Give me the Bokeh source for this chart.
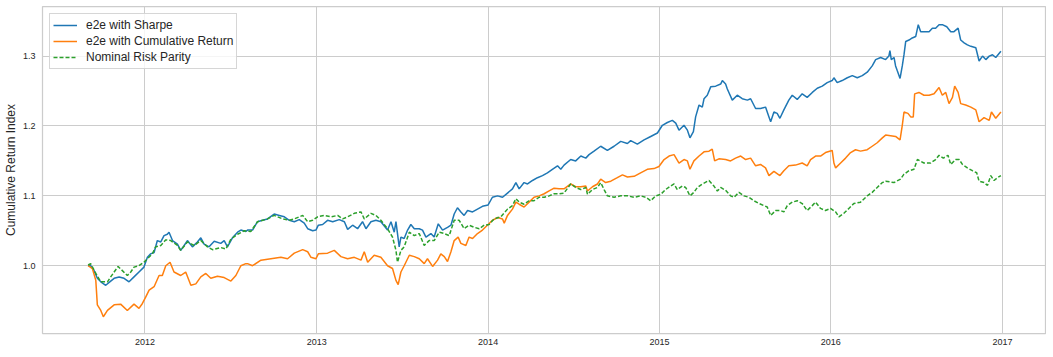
import pandas as pd
from bokeh.plotting import figure
from bokeh.models import Range1d, FixedTicker, DatetimeTickFormatter, PrintfTickFormatter
from bokeh.embed import file_html
from bokeh.resources import INLINE

# ---------------- data (dates as decimal years, values as index levels) ----------------
sharpe_years = [
    2011.668, 2011.683, 2011.703, 2011.722, 2011.742, 2011.771, 2011.800, 2011.820, 2011.849, 2011.878,
    2011.907, 2011.936, 2011.965, 2011.994, 2012.014, 2012.033, 2012.053, 2012.072, 2012.092, 2012.111,
    2012.130, 2012.140, 2012.160, 2012.189, 2012.208, 2012.228, 2012.247, 2012.276, 2012.305, 2012.325,
    2012.344, 2012.373, 2012.403, 2012.441, 2012.461, 2012.480, 2012.509, 2012.539, 2012.558, 2012.587,
    2012.597, 2012.626, 2012.655, 2012.684, 2012.713, 2012.752, 2012.782, 2012.811, 2012.840, 2012.869,
    2012.898, 2012.927, 2012.947, 2012.976, 2012.995, 2013.009, 2013.034, 2013.063, 2013.093, 2013.131,
    2013.161, 2013.180, 2013.209, 2013.238, 2013.267, 2013.287, 2013.316, 2013.345, 2013.374, 2013.413,
    2013.433, 2013.452, 2013.462, 2013.481, 2013.491, 2013.510,
    2013.530, 2013.549, 2013.569, 2013.598, 2013.617, 2013.637, 2013.666, 2013.685, 2013.709, 2013.734,
    2013.763, 2013.783, 2013.802, 2013.821, 2013.841, 2013.860, 2013.880, 2013.909, 2013.938, 2013.967,
    2014.000, 2014.025, 2014.055, 2014.084, 2014.113, 2014.142, 2014.162, 2014.181, 2014.210, 2014.230,
    2014.259, 2014.288, 2014.317, 2014.346, 2014.375, 2014.405, 2014.424, 2014.443,
    2014.482, 2014.511, 2014.541, 2014.570, 2014.589, 2014.618, 2014.657, 2014.696, 2014.735, 2014.774,
    2014.813, 2014.832, 2014.871, 2014.910, 2014.949, 2014.988, 2015.017, 2015.046, 2015.075, 2015.095,
    2015.114, 2015.143, 2015.163, 2015.178, 2015.198, 2015.211, 2015.231, 2015.250, 2015.260, 2015.279,
    2015.299, 2015.328, 2015.357, 2015.367, 2015.386,
    2015.396, 2015.425, 2015.454, 2015.483, 2015.513, 2015.532, 2015.561, 2015.590, 2015.619, 2015.639,
    2015.649, 2015.668, 2015.687, 2015.703, 2015.726, 2015.755, 2015.775, 2015.804, 2015.833, 2015.862,
    2015.892, 2015.921, 2015.950, 2015.979, 2016.008, 2016.018, 2016.037, 2016.066, 2016.096, 2016.125,
    2016.154, 2016.183, 2016.212, 2016.241, 2016.261, 2016.290, 2016.319,
    2016.338, 2016.344, 2016.352, 2016.368, 2016.377, 2016.387, 2016.403, 2016.416, 2016.426, 2016.436,
    2016.455, 2016.474, 2016.494, 2016.509, 2016.523, 2016.542, 2016.572, 2016.591, 2016.610, 2016.630,
    2016.649, 2016.675, 2016.698, 2016.717, 2016.741, 2016.756, 2016.776, 2016.795, 2016.815, 2016.844,
    2016.863, 2016.883, 2016.902, 2016.922, 2016.941, 2016.960, 2016.990,
]
sharpe_values = [
    1.000, 1.000, 0.993, 0.982, 0.977, 0.972, 0.978, 0.982, 0.984, 0.982,
    0.977, 0.984, 0.991, 0.998, 1.012, 1.017, 1.019, 1.036, 1.034, 1.043,
    1.045, 1.048, 1.036, 1.031, 1.022, 1.029, 1.036, 1.027, 1.034, 1.040,
    1.031, 1.027, 1.035, 1.032, 1.036, 1.027, 1.040, 1.048, 1.051, 1.049,
    1.051, 1.051, 1.063, 1.065, 1.067, 1.074, 1.072, 1.070, 1.065, 1.063,
    1.066, 1.061, 1.053, 1.050, 1.051, 1.058, 1.059, 1.065, 1.063, 1.066,
    1.063, 1.052, 1.058, 1.053, 1.063, 1.053, 1.063, 1.065, 1.063, 1.051,
    1.063, 1.048, 1.063, 1.027, 1.041, 1.039,
    1.051, 1.059, 1.053, 1.053, 1.051, 1.041, 1.046, 1.041, 1.060, 1.051,
    1.055, 1.058, 1.074, 1.083, 1.077, 1.072, 1.079, 1.077, 1.081, 1.085,
    1.087, 1.098, 1.100, 1.098, 1.104, 1.110, 1.119, 1.110, 1.119, 1.117,
    1.122, 1.126, 1.129, 1.133, 1.138, 1.143, 1.138, 1.144,
    1.152, 1.150, 1.157, 1.154, 1.159, 1.164, 1.171, 1.165, 1.171, 1.178,
    1.175, 1.179, 1.174, 1.180, 1.185, 1.190, 1.201, 1.205, 1.208, 1.204,
    1.194, 1.201, 1.194, 1.183, 1.192, 1.213, 1.230, 1.227, 1.239, 1.244,
    1.256, 1.257, 1.260, 1.265, 1.260,
    1.253, 1.237, 1.244, 1.239, 1.237, 1.239, 1.225, 1.225, 1.227, 1.213,
    1.206, 1.220, 1.218, 1.211, 1.223, 1.237, 1.244, 1.238, 1.246, 1.241,
    1.248, 1.254, 1.257, 1.262, 1.265, 1.269, 1.262, 1.265, 1.269, 1.272,
    1.269, 1.272, 1.277, 1.286, 1.295, 1.298, 1.295,
    1.300, 1.308, 1.295, 1.298, 1.286, 1.279, 1.268, 1.286, 1.302, 1.321,
    1.323, 1.326, 1.328, 1.345, 1.335, 1.335, 1.335, 1.340, 1.340, 1.345,
    1.345, 1.342, 1.335, 1.335, 1.340, 1.323, 1.319, 1.316, 1.314, 1.312,
    1.293, 1.300, 1.295, 1.300, 1.302, 1.298, 1.307,
]

cumret_years = [
    2011.668, 2011.693, 2011.713, 2011.722, 2011.742, 2011.757, 2011.781, 2011.820, 2011.858, 2011.897,
    2011.936, 2011.965, 2011.985, 2012.004, 2012.024, 2012.053, 2012.082, 2012.101, 2012.121, 2012.146,
    2012.169, 2012.208, 2012.237, 2012.267, 2012.296, 2012.325, 2012.354, 2012.383, 2012.422, 2012.461,
    2012.500, 2012.529, 2012.558, 2012.587,
    2012.597, 2012.626, 2012.675, 2012.733, 2012.791, 2012.830, 2012.869, 2012.918, 2012.947, 2012.966,
    2012.995, 2013.009, 2013.063, 2013.102, 2013.141, 2013.180, 2013.219, 2013.258, 2013.277, 2013.297,
    2013.335, 2013.374, 2013.413, 2013.442, 2013.462, 2013.475, 2013.491, 2013.510,
    2013.540, 2013.569, 2013.598, 2013.627, 2013.646, 2013.676, 2013.705, 2013.724, 2013.744, 2013.763,
    2013.783, 2013.802, 2013.825, 2013.841, 2013.870, 2013.889, 2013.909, 2013.938, 2013.967, 2014.000,
    2014.025, 2014.055, 2014.084, 2014.094, 2014.113, 2014.142, 2014.162, 2014.181, 2014.210, 2014.239,
    2014.268, 2014.298, 2014.327, 2014.356, 2014.385, 2014.414, 2014.443,
    2014.482, 2014.511, 2014.541, 2014.570, 2014.580, 2014.609, 2014.638, 2014.657, 2014.686, 2014.716,
    2014.754, 2014.784, 2014.813, 2014.852, 2014.890, 2014.929, 2014.968, 2014.997, 2015.027, 2015.056,
    2015.085, 2015.114, 2015.143, 2015.163, 2015.178, 2015.201, 2015.231, 2015.260, 2015.289, 2015.308,
    2015.322, 2015.347, 2015.386,
    2015.415, 2015.444, 2015.474, 2015.503, 2015.532, 2015.561, 2015.590, 2015.619, 2015.639, 2015.668,
    2015.703, 2015.726, 2015.755, 2015.794, 2015.833, 2015.862, 2015.882, 2015.911, 2015.940, 2015.969,
    2016.008, 2016.018, 2016.028, 2016.057, 2016.086, 2016.115, 2016.144, 2016.173, 2016.212, 2016.241,
    2016.270, 2016.300, 2016.319,
    2016.348, 2016.377, 2016.403, 2016.416, 2016.426, 2016.449, 2016.465, 2016.480, 2016.488, 2016.513,
    2016.542, 2016.572, 2016.601, 2016.630, 2016.649, 2016.669, 2016.688, 2016.708, 2016.721, 2016.741,
    2016.756, 2016.785, 2016.815, 2016.844, 2016.863, 2016.892, 2016.922, 2016.935, 2016.960, 2016.990,
]
cumret_values = [
    1.000, 0.996, 0.979, 0.944, 0.936, 0.927, 0.936, 0.944, 0.945, 0.936,
    0.945, 0.939, 0.946, 0.955, 0.965, 0.970, 0.986, 0.986, 1.000, 1.005,
    0.991, 0.986, 0.991, 0.972, 0.974, 0.984, 0.989, 0.982, 0.985, 0.983,
    0.978, 0.986, 1.000, 1.003,
    1.003, 1.000, 1.008, 1.010, 1.012, 1.010, 1.018, 1.023, 1.020, 1.012,
    1.010, 1.017, 1.018, 1.022, 1.013, 1.010, 1.012, 1.008, 1.020, 1.005,
    1.015, 1.012, 1.000, 0.996, 0.979, 0.973, 0.991, 1.000,
    1.015, 1.013, 1.010, 1.003, 1.010, 0.999, 1.008, 1.017, 1.013, 1.006,
    1.020, 1.036, 1.041, 1.032, 1.029, 1.041, 1.039, 1.046, 1.051, 1.059,
    1.065, 1.069, 1.067, 1.061, 1.072, 1.081, 1.091, 1.088, 1.084, 1.091,
    1.098, 1.100, 1.103, 1.107, 1.111, 1.110, 1.110,
    1.117, 1.113, 1.113, 1.114, 1.107, 1.113, 1.117, 1.124, 1.119, 1.121,
    1.126, 1.130, 1.127, 1.128, 1.133, 1.138, 1.139, 1.142, 1.152, 1.157,
    1.159, 1.147, 1.152, 1.150, 1.138, 1.150, 1.157, 1.163, 1.164, 1.167,
    1.150, 1.153, 1.152,
    1.150, 1.154, 1.157, 1.152, 1.154, 1.143, 1.145, 1.140, 1.129, 1.135,
    1.129, 1.136, 1.143, 1.144, 1.147, 1.143, 1.152, 1.157, 1.157, 1.162,
    1.165, 1.147, 1.140, 1.147, 1.154, 1.162, 1.166, 1.164, 1.166, 1.171,
    1.176, 1.183, 1.187,
    1.186, 1.185, 1.180, 1.201, 1.220, 1.218, 1.213, 1.213, 1.246, 1.248,
    1.244, 1.244, 1.246, 1.255, 1.244, 1.248, 1.232, 1.241, 1.257, 1.248,
    1.232, 1.230, 1.227, 1.223, 1.206, 1.212, 1.208, 1.220, 1.211, 1.220,
]

nrp_years = [
    2011.668, 2011.683, 2011.713, 2011.742, 2011.781, 2011.800, 2011.820, 2011.843, 2011.868, 2011.897,
    2011.917, 2011.936, 2011.965, 2011.994, 2012.014, 2012.043, 2012.062, 2012.092, 2012.121, 2012.150,
    2012.189, 2012.208, 2012.247, 2012.286, 2012.325, 2012.364, 2012.393, 2012.441, 2012.471, 2012.500,
    2012.539, 2012.578,
    2012.616, 2012.655, 2012.713, 2012.752, 2012.801, 2012.840, 2012.869, 2012.918, 2012.947, 2012.976,
    2013.005, 2013.044, 2013.083, 2013.122, 2013.151, 2013.180, 2013.219, 2013.258, 2013.277, 2013.316,
    2013.345, 2013.374, 2013.413, 2013.442, 2013.462, 2013.471, 2013.491, 2013.510,
    2013.540, 2013.569, 2013.598, 2013.627, 2013.656, 2013.685, 2013.715, 2013.744, 2013.773, 2013.802,
    2013.831, 2013.860, 2013.889, 2013.919, 2013.948, 2013.977, 2014.006, 2014.035, 2014.074, 2014.113,
    2014.142, 2014.162, 2014.181, 2014.210, 2014.239, 2014.268, 2014.298, 2014.327, 2014.356, 2014.385,
    2014.414, 2014.443,
    2014.482, 2014.511, 2014.541, 2014.570, 2014.580, 2014.609, 2014.638, 2014.657, 2014.677, 2014.696,
    2014.735, 2014.774, 2014.813, 2014.852, 2014.890, 2014.920, 2014.949, 2014.978, 2015.007, 2015.036,
    2015.065, 2015.085, 2015.104, 2015.133, 2015.153, 2015.178, 2015.201, 2015.221, 2015.250, 2015.289,
    2015.318, 2015.338, 2015.357, 2015.386,
    2015.415, 2015.435, 2015.464, 2015.493, 2015.522, 2015.551, 2015.581, 2015.610, 2015.629, 2015.649,
    2015.678, 2015.707, 2015.726, 2015.746, 2015.775, 2015.804, 2015.833, 2015.862, 2015.892, 2015.911,
    2015.940, 2015.969, 2015.998, 2016.028, 2016.047, 2016.076, 2016.105, 2016.134, 2016.173, 2016.212,
    2016.241, 2016.270, 2016.300, 2016.319,
    2016.368, 2016.406, 2016.426, 2016.455, 2016.484, 2016.504, 2016.542, 2016.581, 2016.610, 2016.630,
    2016.655, 2016.682, 2016.698, 2016.727, 2016.747, 2016.766, 2016.795, 2016.824, 2016.849, 2016.863,
    2016.892, 2016.912, 2016.931, 2016.950, 2016.970, 2016.990,
]
nrp_values = [
    1.001, 1.003, 0.989, 0.977, 0.977, 0.984, 0.991, 0.999, 0.993, 0.986,
    0.991, 0.998, 1.000, 1.005, 1.010, 1.017, 1.027, 1.029, 1.037, 1.036,
    1.029, 1.022, 1.034, 1.029, 1.036, 1.027, 1.023, 1.026, 1.024, 1.038,
    1.045, 1.050,
    1.049, 1.063, 1.067, 1.072, 1.067, 1.065, 1.067, 1.072, 1.063, 1.065,
    1.070, 1.072, 1.070, 1.072, 1.067, 1.070, 1.075, 1.077, 1.067, 1.075,
    1.072, 1.065, 1.053, 1.041, 1.022, 1.005, 1.022, 1.027,
    1.048, 1.043, 1.046, 1.029, 1.036, 1.036, 1.048, 1.046, 1.043, 1.065,
    1.065, 1.053, 1.058, 1.055, 1.053, 1.058, 1.059, 1.067, 1.070, 1.081,
    1.086, 1.096, 1.091, 1.088, 1.093, 1.093, 1.098, 1.098, 1.100, 1.103,
    1.103, 1.104,
    1.117, 1.112, 1.109, 1.112, 1.102, 1.109, 1.112, 1.119, 1.109, 1.100,
    1.098, 1.100, 1.100, 1.098, 1.100, 1.098, 1.093, 1.100, 1.102, 1.109,
    1.114, 1.117, 1.109, 1.114, 1.112, 1.100, 1.105, 1.112, 1.117, 1.122,
    1.114, 1.107, 1.112, 1.108,
    1.100, 1.098, 1.105, 1.100, 1.098, 1.093, 1.089, 1.086, 1.084, 1.072,
    1.079, 1.079, 1.077, 1.086, 1.091, 1.093, 1.089, 1.079, 1.086, 1.091,
    1.082, 1.079, 1.082, 1.077, 1.070, 1.075, 1.082, 1.089, 1.091, 1.100,
    1.105, 1.112, 1.119, 1.121,
    1.119, 1.124, 1.131, 1.136, 1.138, 1.152, 1.147, 1.147, 1.152, 1.158,
    1.154, 1.158, 1.145, 1.152, 1.152, 1.145, 1.140, 1.136, 1.133, 1.121,
    1.119, 1.115, 1.129, 1.122, 1.126, 1.129,
]

series_names = ["e2e with Sharpe", "e2e with Cumulative Return", "Nominal Risk Parity"]
tick_years = [2012, 2013, 2014, 2015, 2016, 2017]
y_ticks = [1.0, 1.1, 1.2, 1.3]
y_label = "Cumulative Return Index"

assert len(sharpe_years) == len(sharpe_values)
assert len(cumret_years) == len(cumret_values)
assert len(nrp_years) == len(nrp_values)


def to_dt(yr):
    y = int(yr)
    start = pd.Timestamp(year=y, month=1, day=1)
    end = pd.Timestamp(year=y + 1, month=1, day=1)
    return start + (end - start) * (yr - y)


def to_dts(years):
    return [to_dt(v) for v in years]


# matplotlib-style 5% margins on the x axis
all_years = sharpe_years + cumret_years + nrp_years
x_lo, x_hi = min(all_years), max(all_years)
pad = 0.05 * (x_hi - x_lo)

FONT = "Liberation Sans"
TXT = "#262626"
GRID = "#cccccc"

p = figure(
    frame_width=1004, frame_height=327,
    x_axis_type="datetime",
    output_backend="svg", toolbar_location=None,
    min_border_left=34, min_border_right=0, min_border_top=6, min_border_bottom=16,
)
p.x_range = Range1d(to_dt(x_lo - pad), to_dt(x_hi + pad))
p.y_range = Range1d(0.903, 1.371)

p.line(to_dts(sharpe_years), sharpe_values, color="#1f77b4", line_width=1.5,
       legend_label=series_names[0])
p.line(to_dts(cumret_years), cumret_values, color="#ff7f0e", line_width=1.5,
       legend_label=series_names[1])
p.line(to_dts(nrp_years), nrp_values, color="#2ca02c", line_width=1.5,
       line_dash="4 2", legend_label=series_names[2])

# axes
p.xaxis.ticker = FixedTicker(ticks=[pd.Timestamp(f"{y}-01-01").value / 1e6 for y in tick_years])
fmt = "%Y"
p.xaxis.formatter = DatetimeTickFormatter(
    microseconds=fmt, milliseconds=fmt, seconds=fmt, minsec=fmt, minutes=fmt,
    hourmin=fmt, hours=fmt, days=fmt, months=fmt, years=fmt)
p.yaxis.ticker = FixedTicker(ticks=y_ticks)
p.yaxis.formatter = PrintfTickFormatter(format="%.1f")
p.yaxis.axis_label = y_label

for ax in (p.xaxis[0], p.yaxis[0]):
    ax.axis_line_color = None
    ax.major_tick_line_color = None
    ax.minor_tick_line_color = None
    ax.major_tick_out = 0
    ax.major_tick_in = 0
    ax.major_label_text_font = FONT
    ax.major_label_text_font_size = "9px"
    ax.major_label_text_color = TXT
    ax.axis_label_text_font = FONT
    ax.axis_label_text_font_size = "12px"
    ax.axis_label_text_font_style = "normal"
    ax.axis_label_text_color = TXT
p.xaxis.major_label_standoff = 5
p.yaxis.major_label_standoff = 7
p.yaxis.axis_label_standoff = 2

p.xgrid.grid_line_color = GRID
p.ygrid.grid_line_color = GRID
p.xgrid.grid_line_width = 1
p.ygrid.grid_line_width = 1
p.outline_line_color = GRID
p.outline_line_width = 1.25
p.background_fill_color = "white"
p.border_fill_color = "white"

leg = p.legend[0]
leg.location = "top_left"
leg.margin = 7
leg.padding = 3
leg.spacing = 0
leg.glyph_width = 24
leg.glyph_height = 16
leg.label_height = 16
leg.label_standoff = 9
leg.label_text_font = FONT
leg.label_text_font_size = "12px"
leg.label_text_color = TXT
leg.border_line_color = GRID
leg.border_line_alpha = 0.8
leg.background_fill_alpha = 0.8

open("out.html", "w").write(file_html(p, INLINE))
